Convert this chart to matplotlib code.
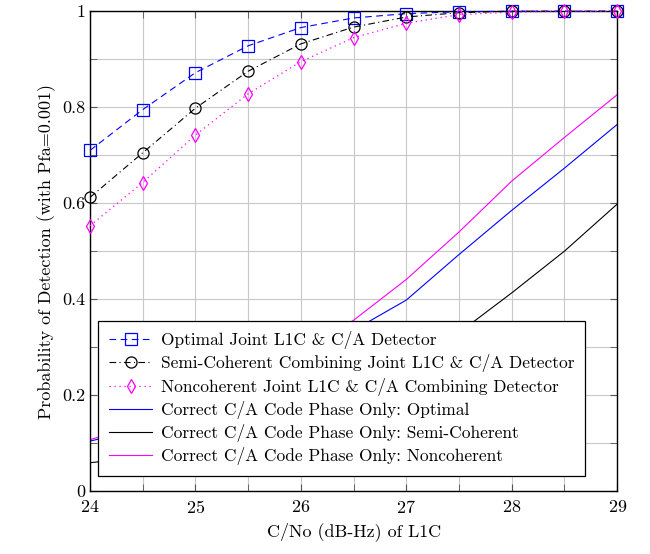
import numpy as np
import matplotlib
matplotlib.use("Agg")
import matplotlib.pyplot as plt
from matplotlib.ticker import MultipleLocator, FuncFormatter

# LaTeX-like look
plt.rcParams['font.family'] = 'serif'
plt.rcParams['font.serif'] = ['cmr10', 'DejaVu Serif']
plt.rcParams['mathtext.fontset'] = 'cm'
plt.rcParams['axes.formatter.use_mathtext'] = True

# C/No of L1C (dB-Hz)
cn0 = [24, 24.5, 25, 25.5, 26, 26.5, 27, 27.5, 28, 28.5, 29]

# Joint L1C & C/A detectors
pd_optimal = [0.71, 0.795, 0.872, 0.928, 0.966, 0.986, 0.995, 0.999, 1.0, 1.0, 1.0]
pd_semicoh = [0.612, 0.705, 0.798, 0.875, 0.932, 0.967, 0.988, 0.997, 1.0, 1.0, 1.0]
pd_noncoh = [0.553, 0.643, 0.742, 0.828, 0.895, 0.945, 0.975, 0.993, 0.998, 1.0, 1.0]

# correct C/A code phase only
ca_optimal = [0.104, 0.13, 0.165, 0.21, 0.265, 0.335, 0.398, 0.493, 0.585, 0.673, 0.764]
ca_semicoh = [0.059, 0.07, 0.085, 0.11, 0.14, 0.19, 0.25, 0.33, 0.413, 0.50, 0.598]
ca_noncoh = [0.107, 0.14, 0.18, 0.23, 0.29, 0.356, 0.441, 0.54, 0.646, 0.737, 0.826]

blue = '#0000ff'
magenta = '#ff00ff'

fig = plt.figure(figsize=(6.5, 5.54), dpi=100)
ax = fig.add_axes([0.1385, 0.1137, 0.811, 0.866])

ax.plot(cn0, pd_optimal, color=blue, lw=0.8, ls=(0, (6, 4)), marker='s', ms=8,
        mfc='none', mec=blue, mew=0.9, clip_on=False, zorder=5,
        label='Optimal Joint L1C & C/A Detector')
ax.plot(cn0, pd_semicoh, color='black', lw=0.8, ls=(0, (6, 3, 1, 3)), marker='o', ms=8,
        mfc='none', mec='black', mew=0.9, clip_on=False, zorder=5,
        label='Semi-Coherent Combining Joint L1C & C/A Detector')
ax.plot(cn0, pd_noncoh, color=magenta, lw=0.9, ls=(0, (1, 3)), marker='d', ms=7.5,
        mfc='none', mec=magenta, mew=0.9, clip_on=False, zorder=5,
        label='Noncoherent Joint L1C & C/A Combining Detector')
ax.plot(cn0, ca_optimal, color=blue, lw=0.8, label='Correct C/A Code Phase Only: Optimal')
ax.plot(cn0, ca_semicoh, color='black', lw=0.8, label='Correct C/A Code Phase Only: Semi-Coherent')
ax.plot(cn0, ca_noncoh, color=magenta, lw=0.8, label='Correct C/A Code Phase Only: Noncoherent')

ax.set_xlim(24, 29)
ax.set_ylim(0, 1)
ax.xaxis.set_major_locator(MultipleLocator(1))
ax.xaxis.set_minor_locator(MultipleLocator(0.5))
ax.yaxis.set_major_locator(MultipleLocator(0.2))
ax.yaxis.set_minor_locator(MultipleLocator(0.1))
ax.yaxis.set_major_formatter(FuncFormatter(lambda v, p: f'{v:g}'))

ax.grid(which='both', color='#c8c8c8', lw=0.8)
ax.set_axisbelow(True)
ax.tick_params(which='both', direction='in', top=True, right=True, color='#555555',
               labelsize=13, length=5)
ax.tick_params(axis='x', pad=6)
for s in ax.spines.values():
    s.set_linewidth(1.0)

ax.set_xlabel('C/No (dB-Hz) of L1C', fontsize=13)
ax.set_ylabel('Probability of Detection (with Pfa=0.001)', fontsize=13)

leg = ax.legend(loc='lower left', bbox_to_anchor=(0.016, 0.032), borderaxespad=0,
                fancybox=False, framealpha=1, edgecolor='black', fontsize=12.5,
                handlelength=2.5, handletextpad=0.5, labelspacing=0.3, borderpad=0.6)
leg.get_frame().set_linewidth(0.9)
leg.set_zorder(10)

fig.savefig('out.png', dpi=100)
